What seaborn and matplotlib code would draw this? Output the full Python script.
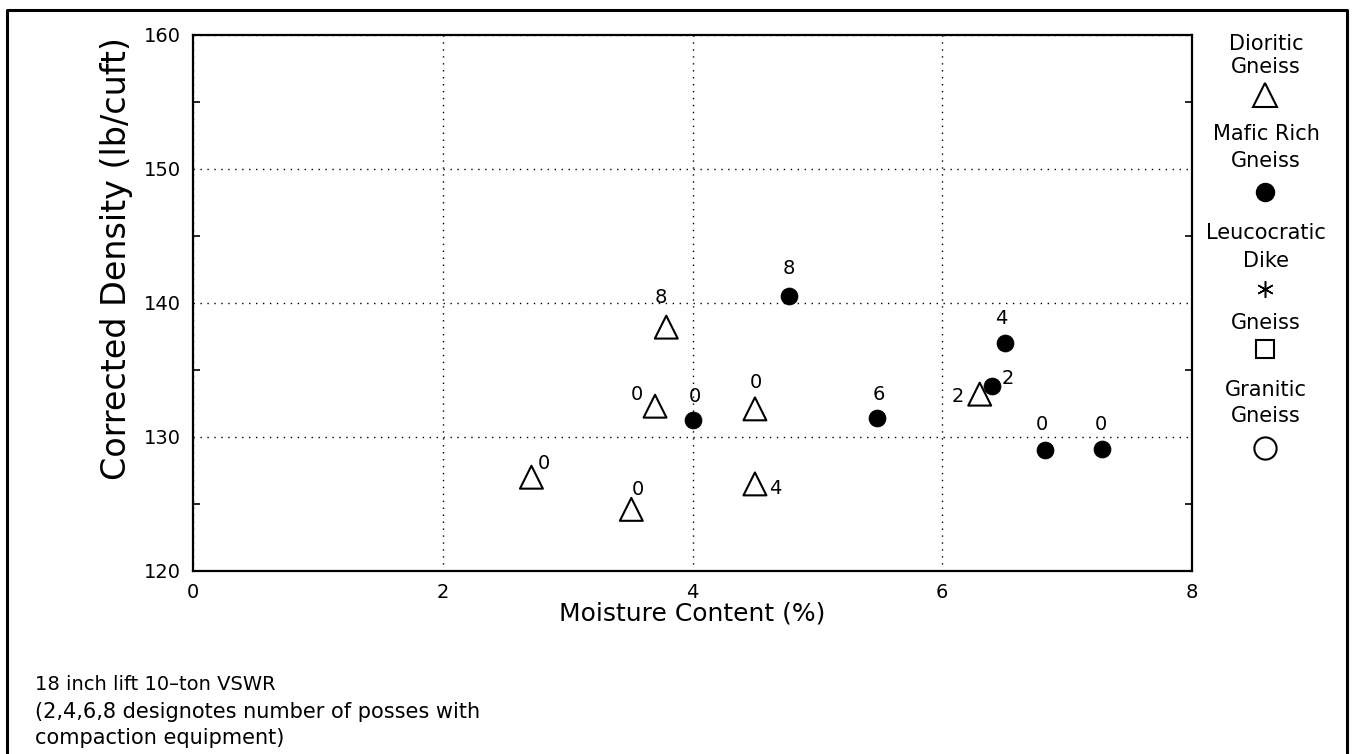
import matplotlib
matplotlib.use("Agg")
import matplotlib.pyplot as plt
import seaborn as sns
import pandas as pd
from matplotlib.lines import Line2D
from matplotlib.ticker import MultipleLocator

# Data
dioritic_moisture = [2.71, 3.51, 3.70, 3.79, 4.50, 4.50, 6.30]
dioritic_density = [127.0, 124.6, 132.3, 138.2, 132.1, 126.5, 133.2]
dioritic_passes = ["0", "0", "0", "8", "0", "4", "2"]

mafic_moisture = [4.00, 4.77, 5.48, 6.40, 6.50, 6.82, 7.28]
mafic_density = [131.3, 140.5, 131.4, 133.8, 137.0, 129.0, 129.1]
mafic_passes = ["0", "8", "6", "2", "4", "0", "0"]

x_ticks = [0, 2, 4, 6, 8]
y_ticks = [120, 130, 140, 150, 160]

legend_labels = ["Dioritic\nGneiss", "Mafic Rich\nGneiss", "Leucocratic\nDike",
                 "Gneiss", "Granitic\nGneiss"]

# label offsets (pixels) for the pass numbers
dioritic_offsets = [(12, 14), (7, 20), (-18, 12), (-5, 30), (1, 26), (20, -5), (-22, -2)]
mafic_offsets = [(2, 23), (0, 28), (1, 24), (16, 8), (-3, 25), (-3, 26), (-1, 25)]

W, H = 1354, 754
sns.set_style("white")
plt.rcParams['font.family'] = ['DejaVu Sans']
plt.rcParams['text.color'] = 'black'
plt.rcParams['xtick.color'] = 'black'
plt.rcParams['ytick.color'] = 'black'

fig = plt.figure(figsize=(W / 100, H / 100), dpi=100)
ax = fig.add_axes([193 / W, 1 - 571 / H, 999 / W, 536 / H])

dio = pd.DataFrame({"moisture": dioritic_moisture, "density": dioritic_density, "passes": dioritic_passes})
maf = pd.DataFrame({"moisture": mafic_moisture, "density": mafic_density, "passes": mafic_passes})

sns.scatterplot(data=dio, x="moisture", y="density", marker="^", s=272,
                facecolor="none", edgecolor="black", linewidth=1.5, ax=ax, zorder=3)
sns.scatterplot(data=maf, x="moisture", y="density", marker="o", s=150,
                color="black", edgecolor="black", linewidth=0.5, ax=ax, zorder=3)

for df, offs in [(dio, dioritic_offsets), (maf, mafic_offsets)]:
    for (_, row), (dx, dy) in zip(df.iterrows(), offs):
        ax.annotate(row["passes"], (row["moisture"], row["density"]), xytext=(dx, dy),
                    textcoords="offset pixels", ha="center", va="center", fontsize=14)

ax.set_xlim(0, 8)
ax.set_ylim(120, 160)
ax.set_xticks(x_ticks)
ax.set_yticks(y_ticks)
ax.yaxis.set_minor_locator(MultipleLocator(5))
ax.grid(True, linestyle=(0, (1, 4)), color="black", linewidth=1)
ax.tick_params(axis="both", which="major", length=0, labelsize=14)
ax.tick_params(axis="x", pad=9)
ax.tick_params(axis="y", pad=9)
ax.tick_params(axis="y", which="minor", direction="in", length=5, width=1.2,
               left=True, right=True, color="black")
for sp in ax.spines.values():
    sp.set_color("black")
    sp.set_linewidth(1.6)

ax.set_xlabel("")
ax.set_ylabel("")
fig.text(692 / W, 1 - 613 / H, "Moisture Content (%)", ha="center", va="center", fontsize=18)
fig.text(117 / W, 1 - 259 / H, "Corrected Density (lb/cuft)", ha="center", va="center",
         fontsize=24, rotation=90)

# footnote
fig.text(35 / W, 1 - 684 / H, "18 inch lift 10\u2013ton VSWR", ha="left", va="center", fontsize=14)
fig.text(35 / W, 1 - 712 / H, "(2,4,6,8 designotes number of posses with", ha="left", va="center", fontsize=15)
fig.text(35 / W, 1 - 738 / H, "compaction equipment)", ha="left", va="center", fontsize=15)

# legend on the right
text_rows = [(44, 67), (134, 161), (233, 261), (323,), (390, 416)]
marker_rows = [95, 192, 289, 349, 448]
marker_styles = [
    dict(marker="^", markersize=17, mfc="none", mec="black", mew=1.5),
    dict(marker="o", markersize=13, mfc="black", mec="black"),
    dict(marker=(6, 2, 0), markersize=12, mec="black", mew=1.1),
    dict(marker="s", markersize=13, mfc="none", mec="black", mew=1.5),
    dict(marker="o", markersize=16, mfc="none", mec="black", mew=1.5),
]
for label, ys, my, style in zip(legend_labels, text_rows, marker_rows, marker_styles):
    for line, y in zip(label.split("\n"), ys):
        fig.text(1266 / W, 1 - y / H, line, ha="center", va="center", fontsize=15)
    fig.add_artist(Line2D([1265 / W], [1 - my / H], linestyle="none",
                          transform=fig.transFigure, **style))

# outer frame
fig.add_artist(Line2D([7 / W, 7 / W, 1347 / W, 1347 / W], [0, 1 - 10 / H, 1 - 10 / H, 0],
                      color="black", linewidth=2.2, transform=fig.transFigure))

fig.savefig("out.png", dpi=100)
